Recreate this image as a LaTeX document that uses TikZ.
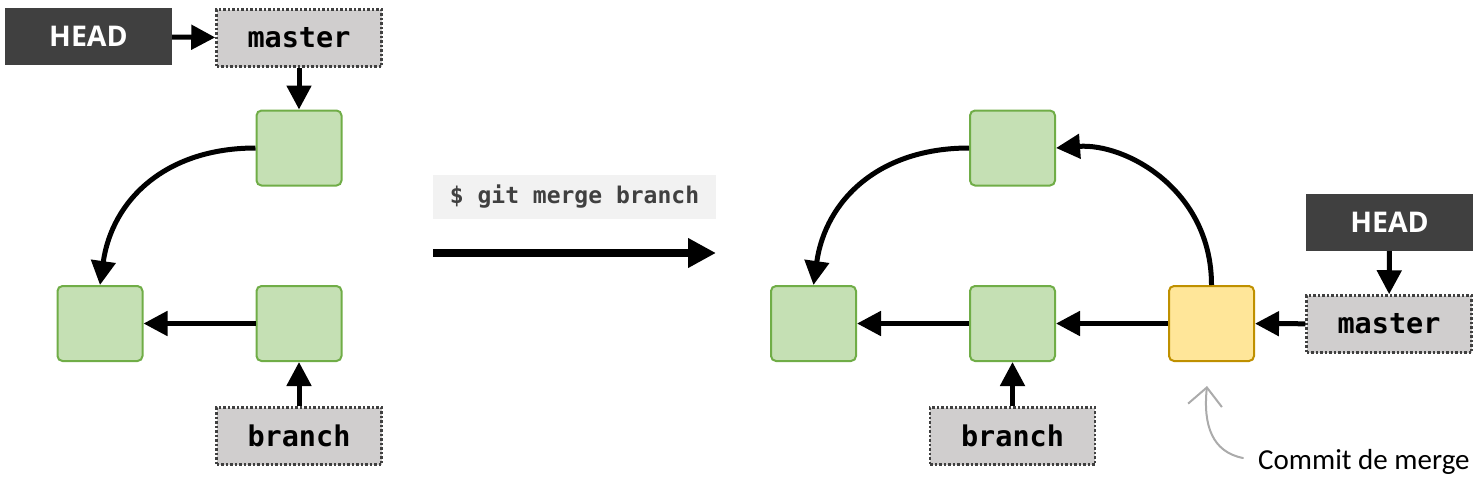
\documentclass[tikz,border=0pt]{standalone}
\usepackage{fontspec}
\setmainfont{Carlito}
\setmonofont{DejaVu Sans Mono}
\newfontfamily\headfont{Open Sans}
\usetikzlibrary{arrows.meta}

\definecolor{headgray}{HTML}{404040}
\definecolor{refgray}{HTML}{D0CECE}
\definecolor{commitfill}{HTML}{C5E0B4}
\definecolor{commitline}{HTML}{70AD47}
\definecolor{mergefill}{HTML}{FFE699}
\definecolor{mergeline}{HTML}{BF9000}
\definecolor{cmdfill}{HTML}{F2F2F2}
\definecolor{notegray}{HTML}{ABABAB}

\tikzset{
	commit/.style={draw=commitline, fill=commitfill, line width=2pt, rounded corners=5pt,
		minimum width=85pt, minimum height=75pt, inner sep=0pt},
	mergecommit/.style={commit, draw=mergeline, fill=mergefill},
	refbox/.style={draw=headgray, fill=refgray, dotted, line width=2.5pt,
		minimum width=165pt, minimum height=57pt, inner sep=0pt,
		font=\ttfamily\bfseries\fontsize{28.5}{30}\selectfont},
	headbox/.style={fill=headgray, text=white, minimum width=167pt, minimum height=57pt, inner sep=0pt,
		font=\headfont\bfseries\fontsize{28.5}{30}\selectfont},
	link/.style={-{Triangle[length=24pt,width=24pt]}, line width=5pt},
}

\begin{document}
\begin{tikzpicture}[x=1pt, y=-1pt]
	\useasboundingbox (0,0) rectangle (1482,482);

	% Before the merge
	\node[headbox] (headA) at (88.5,36.5) {HEAD};
	\node[refbox] (masterA) at (299,38) {master};
	\node[commit] (a1) at (299,148) {};
	\node[commit] (a0) at (100,323.5) {};
	\node[commit] (a2) at (299,323.5) {};
	\node[refbox] (branchA) at (299,436) {branch};

	\draw[link] (headA) -- (masterA);
	\draw[link] (masterA) -- (a1);
	\draw[link] (a2) -- (a0);
	\draw[link] (branchA) -- (a2);
	\draw[link] (a1.west) .. controls +(-90,0) and +(12,-85) .. (a0.north);

	% Command
	\node[fill=cmdfill, minimum width=283pt, minimum height=44pt, inner sep=0pt, text=headgray,
		font=\ttfamily\bfseries\fontsize{23}{26}\selectfont] (cmd) at (574.5,197) {\$ git merge branch};
	\coordinate (go1) at (433,253);
	\coordinate (go2) at (716,253);
	\draw[-{Triangle[length=28pt,width=28pt]}, line width=8pt] (go1) -- (go2);

	% After the merge
	\node[commit] (b1) at (1012.5,148) {};
	\node[commit] (b0) at (813.5,323.5) {};
	\node[commit] (b2) at (1012.5,323.5) {};
	\node[mergecommit] (merge) at (1211.5,323.5) {};
	\node[headbox] (headB) at (1389.5,222.5) {HEAD};
	\node[refbox] (masterB) at (1389,324) {master};
	\node[refbox] (branchB) at (1012.5,436) {branch};

	\draw[link] (headB) -- (masterB);
	\draw[link] (masterB) -- (merge);
	\draw[link] (merge) -- (b2);
	\draw[link] (b2) -- (b0);
	\draw[link] (branchB) -- (b2);
	\draw[link] (b1.west) .. controls +(-90,0) and +(12,-85) .. (b0.north);
	\draw[link] (merge.north) .. controls +(0,-95) and +(70,-5) .. (b1.east);

	% Note
	\node[anchor=west, inner sep=0pt, font=\fontsize{29}{32}\selectfont] (note) at (1258,462) {Commit de merge};
	\coordinate (noteA) at (1243,458);
	\coordinate (noteB) at (1207,386);
	\draw[notegray, line width=2pt, line cap=round, -{Straight Barb[length=18pt,width=34pt]}]
		(noteA) .. controls (1212,452) and (1203,425) .. (noteB);

\end{tikzpicture}
\end{document}
